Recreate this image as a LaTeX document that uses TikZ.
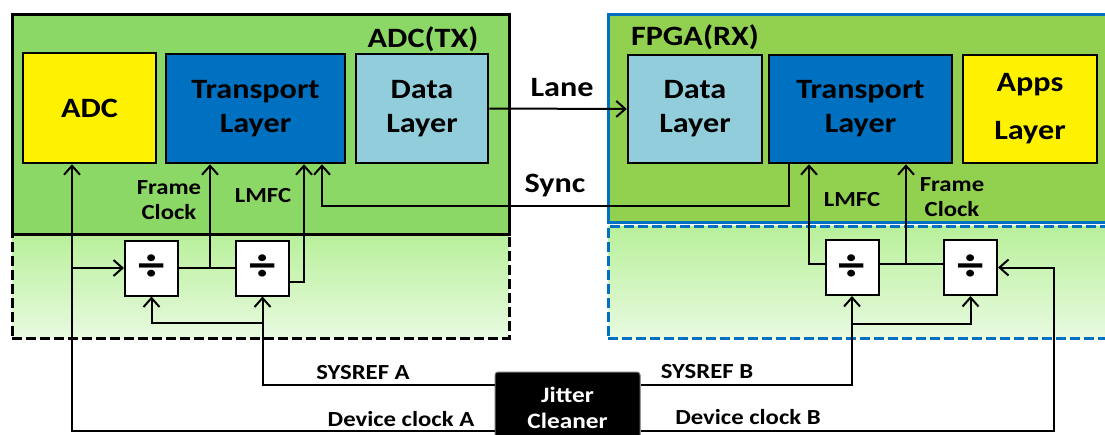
\documentclass[tikz,border=0pt]{standalone}
\usepackage{fontspec}
\setmainfont{Carlito}[FakeStretch=1.15]
\usetikzlibrary{arrows.meta, positioning}
\definecolor{txgreen}{RGB}{140,216,102}
\definecolor{rxgreen}{RGB}{146,208,80}
\definecolor{lowtop}{RGB}{184,240,154}
\definecolor{lowbot}{RGB}{232,250,224}
\definecolor{transblue}{RGB}{0,112,192}
\definecolor{datablue}{RGB}{146,205,220}

\begin{document}
\begin{tikzpicture}[x=1pt, y=-1pt,
    block/.style={rectangle, draw, line width=2.5pt, align=center, font=\fontsize{28}{34}\selectfont\bfseries},
    divider/.style={rectangle, draw, fill=white, line width=2pt, minimum width=53pt, minimum height=55pt, inner sep=0pt, font=\fontsize{46}{46}\selectfont\bfseries},
    lowzone/.style={rectangle, dash pattern=on 10pt off 4pt, line width=3pt, top color=lowtop, bottom color=lowbot},
    devname/.style={font=\fontsize{28}{32}\selectfont\bfseries},
    lbl/.style={font=\fontsize{21.5}{25}\selectfont\bfseries, align=center},
    wire/.style={line width=2pt},
    >={Straight Barb[length=9pt, width=16pt]}
]
    \useasboundingbox (0,0) rectangle (1105,434);

    % device regions
    \node[lowzone, draw=black, minimum width=497pt, minimum height=104pt] (txlow) at (260.5,286) {};
    \node[lowzone, draw=transblue, minimum width=510pt, minimum height=112pt] (rxlow) at (863,282) {};
    \node[rectangle, draw=black, line width=3pt, fill=txgreen, minimum width=497pt, minimum height=220pt] (txbox) at (260.5,124) {};
    \node[rectangle, draw=transblue, line width=3pt, fill=rxgreen, minimum width=510pt, minimum height=208pt] (rxbox) at (863,118) {};
    \node[devname] (txname) at (423,39) {ADC(TX)};
    \node[devname] (rxname) at (695,37) {FPGA(RX)};

    % blocks
    \node[block, fill=yellow, minimum width=133pt, minimum height=110pt] (adc) at (89.5,108) {ADC};
    \node[block, fill=transblue, minimum width=179pt, minimum height=109pt] (txtrans) at (255.5,108.5) {Transport\\Layer};
    \node[block, fill=datablue, minimum width=132pt, minimum height=109pt] (txdata) at (422,108.5) {Data\\Layer};
    \node[block, fill=datablue, minimum width=134pt, minimum height=108pt] (rxdata) at (695,109) {Data\\Layer};
    \node[block, fill=transblue, minimum width=183pt, minimum height=108pt] (rxtrans) at (860.5,109) {Transport\\Layer};
    \node[block, fill=yellow, minimum width=134pt, minimum height=108pt] (apps) at (1030,109) {Apps\\[14pt]Layer};

    \node[divider] (div1) at (151.5,268) {÷};
    \node[divider] (div2) at (262.5,268) {÷};
    \node[divider] (divb1) at (852,267.5) {÷};
    \node[divider] (divb2) at (970.5,267.5) {÷};

    \node[rectangle, draw=black!55, fill=black, rounded corners=3pt, line width=1pt, minimum width=145pt, minimum height=72pt, text=white, align=center, font=\fontsize{22}{26}\selectfont\bfseries] (jitter) at (567.5,408) {Jitter\\Cleaner};

    % junction points
    \coordinate (clkA) at (72,268);
    \coordinate (fclkA) at (210,268);
    \coordinate (lmfcA) at (304,282);
    \coordinate (srA) at (262.5,323);
    \coordinate (syncR) at (789,206);
    \coordinate (syncT) at (322,206);
    \coordinate (srB) at (852,324);
    \coordinate (clkB) at (1054,267.5);
    \coordinate (lmfcB) at (809,263.5);
    \coordinate (fclkB) at (906,263.5);

    % ADC side
    \draw[->, wire] ([yshift=-23pt]jitter.west) -| (adc.south -| clkA);
    \draw[->, wire] (clkA) -- (div1.west);
    \draw[wire] (div1.east) -- (div2.west);
    \draw[->, wire] (fclkA) -- (txtrans.south -| fclkA);
    \draw[->, wire] ([yshift=-14pt]div2.east) -| (txtrans.south -| lmfcA);
    \draw[->, wire] ([yshift=23pt]jitter.west) -| (div2.south);
    \draw[->, wire] (srA) -| (div1.south);

    % links
    \draw[->, wire] (txdata.east) -- (rxdata.west);
    \draw[->, wire] (rxtrans.south -| syncR) |- (syncT) -- (txtrans.south -| syncT);

    % FPGA side
    \draw[->, wire] ([yshift=23pt]jitter.east) -| (divb1.south);
    \draw[->, wire] (srB) -| (divb2.south);
    \draw[->, wire] ([yshift=-23pt]jitter.east) -| (clkB) -- (divb2.east);
    \draw[->, wire] (divb1.west |- lmfcB) -| (rxtrans.south -| lmfcB);
    \draw[wire] (divb2.west |- fclkB) -- (divb1.east |- fclkB);
    \draw[->, wire] (fclkB) -- (rxtrans.south -| fclkB);

    % labels
    \node[lbl] (fcA) at (169,200) {Frame\\Clock};
    \node[lbl] (lmA) at (263,196) {LMFC};
    \node[lbl] (lmB) at (852,200) {LMFC};
    \node[lbl] (fcB) at (952,197) {Frame\\Clock};
    \node[devname] (lane) at (562,88) {Lane};
    \node[devname] (sync) at (555,186) {Sync};
    \node[lbl] (sysA) at (363,373) {SYSREF A};
    \node[lbl] (devA) at (401,419) {Device clock A};
    \node[lbl] (sysB) at (707,372) {SYSREF B};
    \node[lbl] (devB) at (748,417) {Device clock B};
\end{tikzpicture}
\end{document}
